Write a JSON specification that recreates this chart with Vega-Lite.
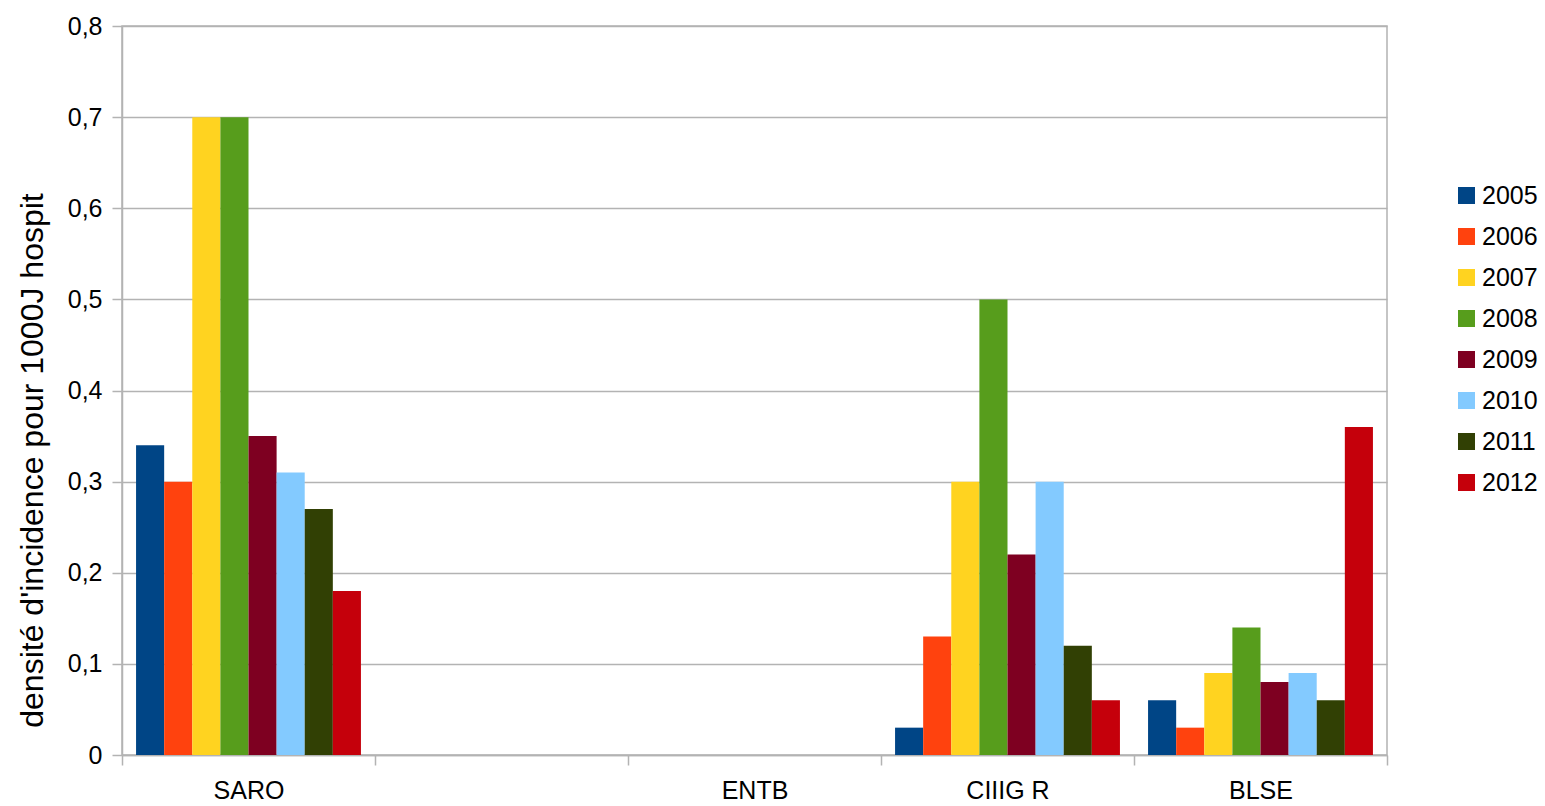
{
  "$schema": "https://vega.github.io/schema/vega-lite/v6.json",
  "width": 1265,
  "height": 729,
  "autosize": {"type": "none"},
  "padding": {"left": 122, "top": 26, "right": 158, "bottom": 51},
  "background": "white",
  "config": {
    "font": "Liberation Sans",
    "view": {"stroke": "#b3b3b3", "strokeWidth": 1.5},
    "axis": {"labelColor": "#000", "titleColor": "#000", "labelFont": "Liberation Sans", "titleFont": "Liberation Sans"}
  },
  "data": {
    "values": [
      {"cat": "SARO", "year": "2005", "value": 0.34},
      {"cat": "SARO", "year": "2006", "value": 0.30},
      {"cat": "SARO", "year": "2007", "value": 0.70},
      {"cat": "SARO", "year": "2008", "value": 0.70},
      {"cat": "SARO", "year": "2009", "value": 0.35},
      {"cat": "SARO", "year": "2010", "value": 0.31},
      {"cat": "SARO", "year": "2011", "value": 0.27},
      {"cat": "SARO", "year": "2012", "value": 0.18},
      {"cat": "CIIIG R", "year": "2005", "value": 0.03},
      {"cat": "CIIIG R", "year": "2006", "value": 0.13},
      {"cat": "CIIIG R", "year": "2007", "value": 0.30},
      {"cat": "CIIIG R", "year": "2008", "value": 0.50},
      {"cat": "CIIIG R", "year": "2009", "value": 0.22},
      {"cat": "CIIIG R", "year": "2010", "value": 0.30},
      {"cat": "CIIIG R", "year": "2011", "value": 0.12},
      {"cat": "CIIIG R", "year": "2012", "value": 0.06},
      {"cat": "BLSE", "year": "2005", "value": 0.06},
      {"cat": "BLSE", "year": "2006", "value": 0.03},
      {"cat": "BLSE", "year": "2007", "value": 0.09},
      {"cat": "BLSE", "year": "2008", "value": 0.14},
      {"cat": "BLSE", "year": "2009", "value": 0.08},
      {"cat": "BLSE", "year": "2010", "value": 0.09},
      {"cat": "BLSE", "year": "2011", "value": 0.06},
      {"cat": "BLSE", "year": "2012", "value": 0.36}
    ]
  },
  "mark": {"type": "bar"},
  "encoding": {
    "x": {
      "field": "cat",
      "type": "nominal",
      "sort": null,
      "scale": {"domain": ["SARO", " ", "ENTB", "CIIIG R", "BLSE"], "paddingInner": 0, "paddingOuter": 0},
      "axis": {
        "title": null,
        "labelAngle": 0,
        "labelFontSize": 25,
        "labelPadding": 13,
        "tickBand": "extent",
        "tickSize": 10,
        "tickColor": "#b3b3b3",
        "tickWidth": 1.5,
        "domainColor": "#b3b3b3",
        "domainWidth": 1.5,
        "grid": false
      }
    },
    "xOffset": {
      "field": "year",
      "type": "nominal",
      "scale": {"paddingInner": 0, "paddingOuter": 0.5}
    },
    "y": {
      "field": "value",
      "type": "quantitative",
      "scale": {"domain": [0, 0.8], "nice": false},
      "axis": {
        "title": "densité d'incidence pour 1000J hospit",
        "titleFontSize": 32,
        "titleFontWeight": "normal",
        "titleX": -90,
        "titleY": 434,
        "titleBaseline": "middle",
        "labelFontSize": 25,
        "labelPadding": 10,
        "values": [0, 0.1, 0.2, 0.3, 0.4, 0.5, 0.6, 0.7, 0.8],
        "labelExpr": "datum.value == 0 ? '0' : replace(format(datum.value, '.1f'), '.', ',')",
        "tickSize": 10,
        "tickColor": "#b3b3b3",
        "tickWidth": 1.5,
        "domainColor": "#b3b3b3",
        "domainWidth": 1.5,
        "gridColor": "#b3b3b3",
        "gridWidth": 1.5
      }
    },
    "color": {
      "field": "year",
      "type": "nominal",
      "scale": {
        "domain": ["2005", "2006", "2007", "2008", "2009", "2010", "2011", "2012"],
        "range": ["#004586", "#ff420e", "#ffd320", "#579d1c", "#7e0021", "#83caff", "#314004", "#c5000b"]
      },
      "legend": {
        "title": null,
        "orient": "none",
        "legendX": 1332,
        "legendY": 157,
        "padding": 0,
        "symbolType": "square",
        "symbolSize": 289,
        "symbolStrokeWidth": 0,
        "labelFontSize": 25,
        "labelColor": "#000",
        "labelOffset": 3,
        "rowPadding": 15
      }
    }
  }
}
